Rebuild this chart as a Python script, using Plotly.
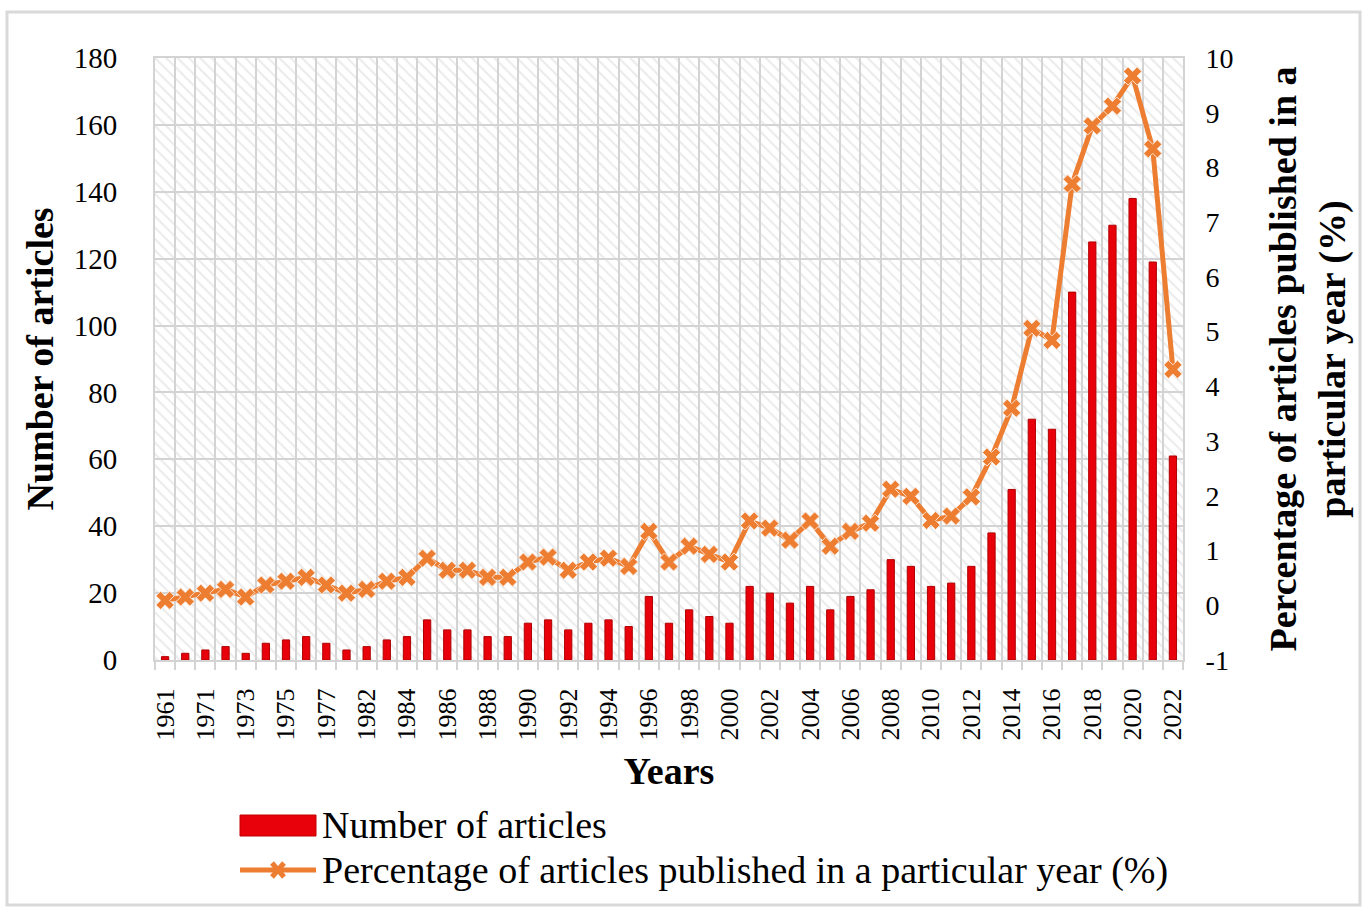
import plotly.graph_objects as go

# Publication years (categories) and counts
years = [
    "1961", "1970", "1971", "1972", "1973", "1974", "1975", "1976", "1977", "1981",
    "1982", "1983", "1984", "1985", "1986", "1987", "1988", "1989", "1990", "1991",
    "1992", "1993", "1994", "1995", "1996", "1997", "1998", "1999", "2000", "2001",
    "2002", "2003", "2004", "2005", "2006", "2007", "2008", "2009", "2010", "2011",
    "2012", "2013", "2014", "2015", "2016", "2017", "2018", "2019", "2020", "2021",
    "2022",
]
articles = [
    1, 2, 3, 4, 2, 5, 6, 7, 5, 3,
    4, 6, 7, 12, 9, 9, 7, 7, 11, 12,
    9, 11, 12, 10, 19, 11, 15, 13, 11, 22,
    20, 17, 22, 15, 19, 21, 30, 28, 22, 23,
    28, 38, 51, 72, 69, 110, 125, 130, 138, 119,
    61,
]
share_pct = [
    0.09, 0.15, 0.22, 0.29, 0.15, 0.37, 0.44, 0.51, 0.37, 0.22,
    0.29, 0.44, 0.51, 0.86, 0.64, 0.64, 0.51, 0.51, 0.79, 0.88,
    0.64, 0.79, 0.86, 0.71, 1.35, 0.79, 1.08, 0.93, 0.79, 1.54,
    1.41, 1.19, 1.54, 1.08, 1.35, 1.50, 2.12, 1.99, 1.55, 1.63,
    1.98, 2.71, 3.60, 5.06, 4.84, 7.70, 8.76, 9.12, 9.67, 8.34,
    4.31,
]

left_ticks = [0, 20, 40, 60, 80, 100, 120, 140, 160, 180]
right_ticks = [-1, 0, 1, 2, 3, 4, 5, 6, 7, 8, 9, 10]

FONT = "Liberation Serif"
GRID = "#d3d3d3"
RED = "#E8000B"
ORANGE = "#ED7D31"

idx = list(range(len(years)))
n = len(years)

fig = go.Figure()

# hatched plot background: one full-width bar underneath the data bars
fig.add_trace(go.Bar(
    x=[(n - 1) / 2], y=[left_ticks[-1]], width=[n],
    marker=dict(color="rgba(0,0,0,0)", line=dict(width=0),
                pattern=dict(shape="\\", fgcolor="#d6d6d6", bgcolor="rgba(0,0,0,0)",
                             size=8, solidity=0.25)),
    hoverinfo="skip", showlegend=False,
))

fig.add_trace(go.Bar(
    x=idx, y=articles, width=0.36, name="Number of articles",
    marker=dict(color=RED, line=dict(color="#B00000", width=1)),
    showlegend=False,
))

fig.add_trace(go.Scatter(
    x=idx, y=share_pct, yaxis="y2", mode="lines+markers",
    name="Percentage of articles published in a particular year (%)",
    line=dict(color=ORANGE, width=5),
    marker=dict(symbol="x", size=16, color=ORANGE, line=dict(color="#FBE3D2", width=1)),
    showlegend=False,
))

# plot area geometry (pixels) for the hand-drawn legend and frame
L, R, T, B = 155, 183, 58, 248
W, H = 1366, 908
pw, ph = W - L - R, H - T - B


def px(x):
    return (x - L) / pw


def py(y):
    return (H - B - y) / ph


shapes = [
    # outer frame
    dict(type="rect", xref="paper", yref="paper", x0=px(7), x1=px(1360), y0=py(905), y1=py(12),
         line=dict(color="#d9d9d9", width=3), layer="below"),
    # legend swatches
    dict(type="rect", xref="paper", yref="paper", x0=px(240), x1=px(316), y0=py(836), y1=py(815),
         fillcolor=RED, line=dict(color="#C00000", width=1)),
    dict(type="line", xref="paper", yref="paper", x0=px(240), x1=px(316), y0=py(870), y1=py(870),
         line=dict(color=ORANGE, width=5)),
    dict(type="path", xref="paper", yref="paper", xsizemode="pixel", ysizemode="pixel",
         xanchor=px(278), yanchor=py(870), path="M-6,-7 L6,7 M-6,7 L6,-7",
         line=dict(color=ORANGE, width=5)),
]

annotations = [
    dict(xref="paper", yref="paper", x=px(320), y=py(825), xanchor="left", yanchor="middle",
         text="Number of articles", showarrow=False, font=dict(family=FONT, size=38, color="black")),
    dict(xref="paper", yref="paper", x=px(320), y=py(870), xanchor="left", yanchor="middle",
         text="Percentage of articles published in a particular year (%)", showarrow=False,
         font=dict(family=FONT, size=38, color="black")),
]

fig.update_layout(
    width=W, height=H,
    margin=dict(l=L, r=R, t=T, b=B),
    paper_bgcolor="white", plot_bgcolor="white",
    font=dict(family=FONT, color="black"),
    barmode="overlay",
    shapes=shapes, annotations=annotations,
    xaxis=dict(
        range=[-0.5, n - 0.5],
        tickmode="array", tickvals=idx[::2], ticktext=years[::2],
        tickangle=-90, tickfont=dict(size=26, family=FONT),
        ticks="outside", ticklen=16, tickcolor="rgba(0,0,0,0)",
        showgrid=False, zeroline=False,
        minor=dict(tick0=0.5, dtick=1, showgrid=True, gridcolor=GRID, gridwidth=2,
                   ticks="outside", ticklen=8, tickcolor=GRID, tickwidth=2),
        showline=True, linecolor=GRID, linewidth=2, mirror=True,
        title=dict(text="<b>Years</b>", font=dict(size=38, family=FONT), standoff=18),
    ),
    yaxis=dict(
        range=[left_ticks[0], left_ticks[-1]],
        tickmode="array", tickvals=left_ticks,
        tickfont=dict(size=29, family=FONT),
        ticks="outside", ticklen=30, tickcolor="rgba(0,0,0,0)",
        showgrid=True, gridcolor=GRID, gridwidth=2, zeroline=False,
        showline=True, linecolor=GRID, linewidth=2, mirror=True,
        title=dict(text="<b>Number of articles</b>", font=dict(size=38, family=FONT), standoff=8),
    ),
    yaxis2=dict(
        range=[right_ticks[0], right_ticks[-1]], overlaying="y", side="right",
        tickmode="array", tickvals=right_ticks, ticktext=[str(v) for v in right_ticks],
        tickfont=dict(size=28, family=FONT),
        ticks="outside", ticklen=16, tickcolor="rgba(0,0,0,0)",
        showgrid=False, zeroline=False,
        title=dict(text="<b>Percentage of articles published in a<br>particular year (%)</b>",
                   font=dict(size=38, family=FONT), standoff=36),
    ),
)

fig.write_html("out.html")
